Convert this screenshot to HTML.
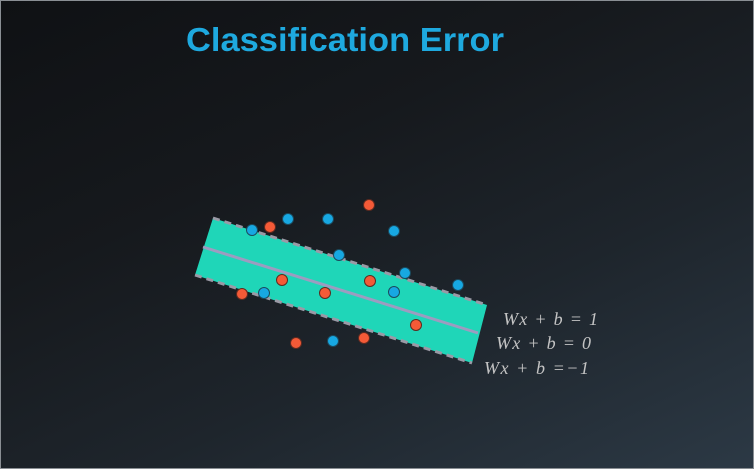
<!DOCTYPE html>
<html><head><meta charset="utf-8"><style>
html,body{margin:0;padding:0;}
body{width:754px;height:469px;overflow:hidden;}
#wrap{position:relative;width:752px;height:467px;border:1px solid #8a8f94;background:linear-gradient(155deg,#0f1114 0%,#16191d 35%,#1e252c 65%,#2c3945 100%);}
svg{position:absolute;left:0;top:0;}
</style></head><body>
<div id="wrap">
<svg id="chart" width="752" height="467">
<text x="185" y="50" font-family="Liberation Sans, sans-serif" font-weight="bold" font-size="33" fill="#1ea9df" textLength="318" lengthAdjust="spacingAndGlyphs">Classification Error</text>
</svg>
</div>
<script>
// data coordinates (pixel units of the plotting plane)
const blueX = [252,288,328,394,339,405,458,264,394,333];
const blueY = [230,219,219,231,255,273,285,293,292,341];
const redX = [369,270,282,242,325,370,416,296,364];
const redY = [205,227,280,294,293,281,325,343,338];
const bandCorners = [[213,218],[487,305],[472,363],[195,275]];
const centerLine = [[203,247],[478,333]];
const eqLabels = ["Wx + b = 1","Wx + b = 0","Wx + b =\u22121"];
const eqLeft = [502,495,483];
const eqWidth = [95,95,105];
const eqBase = [324,348,373];

const xs = v => v - 1, ys = v => v - 1;
const svg = document.getElementById('chart');
const NS = 'http://www.w3.org/2000/svg';
function mk(t, a){const e=document.createElementNS(NS,t);for(const k in a)e.setAttribute(k,a[k]);svg.appendChild(e);return e;}

const band = mk('polygon',{points:bandCorners.map(p=>xs(p[0])+','+ys(p[1])).join(' '),fill:'#1fd6b8'});


const edges=[[0,1],[3,2]];
edges.forEach((ed)=>{
  const a=bandCorners[ed[0]],b=bandCorners[ed[1]];
  const l=mk('line',{x1:xs(a[0]),y1:ys(a[1]),x2:xs(b[0]),y2:ys(b[1]),stroke:'#9a9aa6','stroke-width':3,'stroke-dasharray':'7 5'});
  
  
});
const cl=mk('line',{x1:xs(centerLine[0][0]),y1:ys(centerLine[0][1]),x2:xs(centerLine[1][0]),y2:ys(centerLine[1][1]),stroke:'#9c9cc0','stroke-width':3});



blueX.forEach((x,i)=>{
  const c=mk('circle',{cx:xs(x),cy:ys(blueY[i]),r:5.5,fill:'#17a8e2',stroke:'#1b4a5e','stroke-width':1});
  
  
});
redX.forEach((x,i)=>{
  const c=mk('circle',{cx:xs(x),cy:ys(redY[i]),r:5.5,fill:'#f45a37',stroke:'#5e2a20','stroke-width':1});
  
  
});
eqLabels.forEach((s,i)=>{
  const t=mk('text',{x:eqLeft[i],y:eqBase[i],'font-family':'Liberation Serif, serif','font-style':'italic','font-size':18,fill:'#c4c4c4','xml:space':'preserve',textLength:eqWidth[i],lengthAdjust:'spacing'});
  t.textContent=s;
  
  
});
</script>
</body></html>
